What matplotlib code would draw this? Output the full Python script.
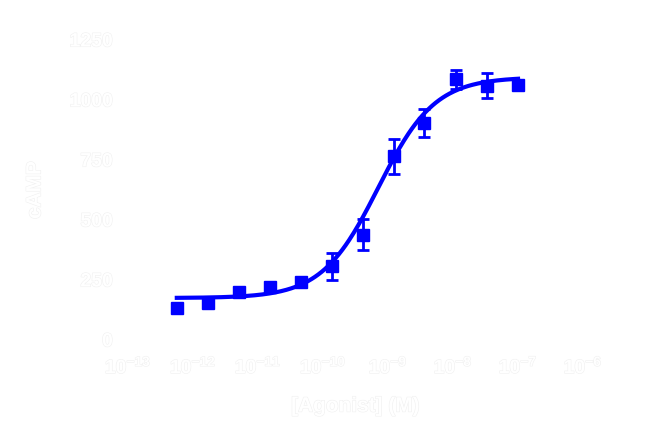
import numpy as np
import matplotlib
matplotlib.use("Agg")
import matplotlib.pyplot as plt
import matplotlib.patheffects as pe

# -----------------------------
# Data (3-fold dilution series)
# -----------------------------
log_conc = [-12.25, -11.77, -11.30, -10.82, -10.34, -9.87,
            -9.39, -8.91, -8.44, -7.96, -7.48, -7.00]
response = [132, 153, 199, 222, 240, 307, 439, 765, 904, 1087, 1060, 1062]
sem = [8, 8, 8, 8, 8, 56, 65, 72, 58, 40, 53, 8]

# 4PL fit parameters (bottom, top, logEC50, hill)
fit_bottom = 175
fit_top = 1095
fit_logec50 = -9.15
fit_hill = 1.0

x_ticks = [-13, -12, -11, -10, -9, -8, -7, -6]
y_ticks = [0, 250, 500, 750, 1000, 1250]

# -----------------------------
# Style
# -----------------------------
plt.rcParams["font.family"] = ["Liberation Sans", "DejaVu Sans"]
plt.rcParams["font.weight"] = "bold"
plt.rcParams["mathtext.fontset"] = "custom"
plt.rcParams["mathtext.rm"] = "Liberation Sans:bold"
plt.rcParams["mathtext.bf"] = "Liberation Sans:bold"
plt.rcParams["mathtext.it"] = "Liberation Sans:bold"
blue = "#0000ff"
text_col = "white"
halo = [pe.withStroke(linewidth=0.8, foreground="#f0f0f0")]

fig = plt.figure(figsize=(6.5, 4.39), dpi=100)
ax = fig.add_axes([0.197, 0.2232, 0.70, 0.6834])

conc = 10 ** np.array(log_conc)

# fitted curve
xs = np.logspace(log_conc[0], log_conc[-1], 300)
ys = fit_bottom + (fit_top - fit_bottom) / (1 + 10 ** ((fit_logec50 - np.log10(xs)) * fit_hill))
ax.plot(xs, ys, color=blue, lw=3, zorder=2)

# points with error bars
ax.errorbar(conc, response, yerr=sem, fmt="s", color=blue, ms=8,
            elinewidth=2, capsize=4, capthick=2, zorder=3)

ax.set_xscale("log")
ax.set_xlim(1e-13, 1e-6)
ax.set_ylim(0, 1250)
ax.set_xticks([10.0 ** t for t in x_ticks])
ax.set_xticklabels([r"$\mathregular{10^{%d}}$" % t for t in x_ticks])
ax.set_yticks(y_ticks)
ax.minorticks_off()

for s in ax.spines.values():
    s.set_color("white")
ax.spines["top"].set_visible(False)
ax.spines["right"].set_visible(False)
ax.tick_params(colors="white", labelsize=14, width=1.5, length=5, pad=6)
ax.set_facecolor("white")

for lab in ax.get_xticklabels() + ax.get_yticklabels():
    lab.set_color(text_col)
    lab.set_fontweight("bold")
    lab.set_path_effects(halo)

ax.set_xlabel("[Agonist] (M)", fontsize=15, fontweight="bold",
              color=text_col, labelpad=14, path_effects=halo)
ax.set_ylabel("cAMP", fontsize=15, fontweight="bold",
              color=text_col, labelpad=18, path_effects=halo)

fig.savefig("out.png", dpi=100, facecolor="white")
